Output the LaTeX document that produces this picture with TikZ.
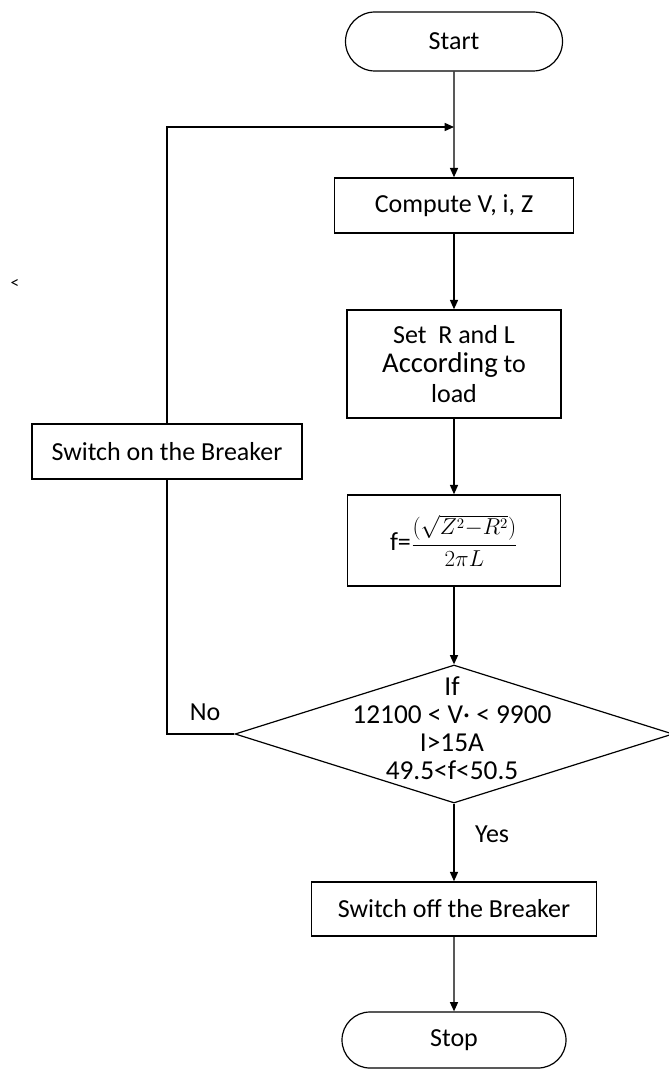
\documentclass[tikz,border=0pt]{standalone}
\usepackage{fontspec}
\setmainfont{Carlito}
\usetikzlibrary{arrows.meta, positioning, shapes.geometric, shapes.misc}

\begin{document}
\begin{tikzpicture}[x=0.75pt, y=-0.75pt,
        every node/.style={font=\fontsize{19.5}{23}\selectfont},
        term/.style={rounded rectangle, draw, line width=0.9pt, minimum width=162.75pt, minimum height=44.25pt, inner sep=0pt},
        box/.style={rectangle, draw, line width=1.1pt, align=center, inner sep=0pt},
        decision/.style={diamond, draw, line width=0.9pt, minimum width=328.5pt, minimum height=103.5pt, inner sep=0pt},
        arrow/.style={-{Triangle[length=7pt, width=6pt]}, line width=1.1pt},
        line/.style={line width=1.1pt}
    ]
        \useasboundingbox (0,0) rectangle (668,1069);
        \node[term] (start) at (454,41.5) {Start};
        \coordinate (join) at (454,127);
        \node[box, minimum width=179.25pt, minimum height=41.25pt] (compute) at (454,205.5) {Compute V, i, Z};
        \node[box, minimum width=160.5pt, minimum height=81pt] (setrl) at (454,364) {Set\ \ R and L\\[-1pt]{\fontsize{21.5}{24}\selectfont According} to\\[-1pt]load};
        \node[box, minimum width=159.75pt, minimum height=68.25pt] (freq) at (454,540.5) {f=\fontsize{16}{18}\selectfont$\displaystyle\frac{(\sqrt{Z^{2}{-}R^{2}})}{2\pi L}$};
        \node[decision] (check) at (454,734) {};
        \node[align=center, font=\fontsize{20.5}{21}\selectfont] (cond) at (452,728) {If\\12100 < V· < 9900\\I>15A\\49.5<f<50.5};
        \node[box, minimum width=213.75pt, minimum height=40.5pt] (off) at (454,909) {Switch off the Breaker};
        \node[term, minimum width=168pt, minimum height=42pt] (stop) at (454,1040) {Stop};
        \node[box, minimum width=202.5pt, minimum height=41.25pt] (on) at (167,451.5) {Switch on the Breaker};
        \coordinate (noturn) at (check.west -| on);
        \node (nolabel) at (205,712) {No};
        \node (stray) at (15,284) {\fontsize{13}{15}\selectfont <};
        \draw[arrow] (start) -- (compute);
        \draw[arrow] (compute) -- (setrl);
        \draw[arrow] (setrl) -- (freq);
        \draw[arrow] (freq) -- (check);
        \draw[arrow] (check) -- node[right=12pt, pos=0.4] (yes) {Yes} (off);
        \draw[arrow] (off) -- (stop);
        \draw[line] (check.west) -- (noturn) -- (on);
        \draw[arrow] (on) |- (join);
    \end{tikzpicture}
\end{document}
